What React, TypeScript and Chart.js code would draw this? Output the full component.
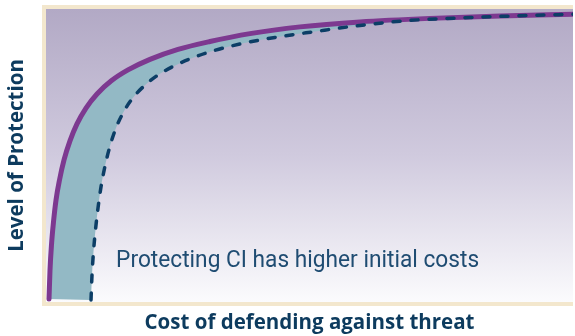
import React, { useEffect, useRef } from "react";
import { Chart, registerables } from "chart.js";

Chart.register(...registerables);

// Cost of defending (x) vs level of protection (y), arbitrary 0-100 units
const baselineCost = [0.57, 0.76, 1.04, 1.42, 1.9, 2.56, 3.42, 4.55, 5.88, 7.59, 9.68, 12.33, 15.56, 19.73, 25.05, 31.12, 38.71, 48.2, 59.58, 72.87, 86.15, 100];
const baselineLevel = [1.0, 10.9, 19.5, 27.3, 34.8, 41.6, 48.5, 55.0, 60.8, 66.2, 71.0, 75.4, 79.2, 82.8, 86.2, 88.9, 91.6, 93.9, 95.6, 96.8, 97.6, 98.2];
const ciCost = [8.54, 8.73, 9.01, 9.39, 9.87, 10.44, 11.2, 12.14, 13.28, 14.61, 16.32, 18.41, 20.87, 23.91, 27.51, 31.88, 37.19, 43.45, 51.04, 59.58, 69.07, 80.46, 91.84, 100];
const ciLevel = [0.7, 9.2, 17.1, 24.6, 32.1, 39.3, 46.4, 53.2, 59.4, 64.5, 69.3, 73.4, 77.0, 80.2, 83.1, 85.8, 88.2, 90.3, 92.3, 94.4, 96.1, 97.1, 97.8, 98.2];

const xTitle = "Cost of defending against threat";
const yTitle = "Level of Protection";
const noteText = "Protecting CI has higher initial costs";
const notePos = { x: 13.3, y: 11.9 };

const toPoints = (xs: number[], ys: number[]) => xs.map((x, i) => ({ x, y: ys[i] }));

const bgPlugin = {
  id: "bgPanel",
  beforeDraw(chart: any) {
    const { ctx, chartArea: a } = chart;
    ctx.save();
    ctx.fillStyle = "#f3e7cd";
    ctx.fillRect(a.left - 4, a.top - 4, a.right - a.left + 4, a.bottom - a.top + 8);
    const g = ctx.createLinearGradient(0, a.top, 0, a.bottom);
    g.addColorStop(0, "#b2a9c5");
    g.addColorStop(0.5, "#d0cade");
    g.addColorStop(1, "#fbfbfd");
    ctx.fillStyle = g;
    ctx.fillRect(a.left, a.top, a.right - a.left, a.bottom - a.top);
    ctx.restore();
  },
};

const notePlugin = {
  id: "note",
  afterDatasetsDraw(chart: any) {
    const { ctx, scales } = chart;
    const px = scales.x.getPixelForValue(notePos.x);
    const py = scales.y.getPixelForValue(notePos.y);
    ctx.save();
    ctx.font = "400 23px Roboto";
    ctx.fillStyle = "#1f4c72";
    ctx.textBaseline = "alphabetic";
    const w = ctx.measureText(noteText).width;
    const sx = 363 / w;
    ctx.translate(px, py);
    ctx.scale(sx, 1);
    ctx.fillText(noteText, 0, 0);
    ctx.restore();
  },
};

export default function App() {
  const ref = useRef<HTMLCanvasElement>(null);
  useEffect(() => {
    if (!ref.current) return;
    const baseline = toPoints(baselineCost, baselineLevel);
    const ci = toPoints(ciCost, ciLevel);
    const shape = [...baseline, ...ci.slice(0, -1).reverse()];
    const titleFont = { family: "'Open Sans', sans-serif", weight: "bold" as const, size: 20.5, lineHeight: 1.2 };
    const chart = new Chart(ref.current, {
      type: "line",
      data: {
        datasets: [
          {
            data: ci,
            borderColor: "#0c3e66",
            borderWidth: 3.5,
            borderDash: [7, 11],
            borderCapStyle: "round",
            pointRadius: 0,
            cubicInterpolationMode: "monotone",
            fill: false,
            order: 1,
          },
          {
            data: baseline,
            borderColor: "#7d3990",
            borderWidth: 5,
            borderCapStyle: "round",
            pointRadius: 0,
            cubicInterpolationMode: "monotone",
            fill: false,
            order: 2,
          },
          {
            data: shape,
            borderWidth: 0,
            borderColor: "rgba(0,0,0,0)",
            backgroundColor: "#93b9c5",
            pointRadius: 0,
            cubicInterpolationMode: "monotone",
            fill: "shape",
            order: 3,
          },
        ],
      },
      options: {
        responsive: false,
        animation: false,
        events: [],
        layout: { padding: { left: 0, top: 9, right: 2, bottom: 0 } },
        plugins: { legend: { display: false }, tooltip: { enabled: false } },
        scales: {
          x: {
            type: "linear",
            min: 0,
            max: 100,
            grid: { display: false, drawTicks: false },
            border: { display: false },
            ticks: { display: false },
            title: {
              display: true,
              text: xTitle,
              color: "#0d3b5e",
              font: titleFont,
              padding: { top: 8.7, bottom: 0.7 },
            },
          },
          y: {
            type: "linear",
            min: 0,
            max: 100,
            grid: { display: false, drawTicks: false },
            border: { display: false },
            ticks: { display: false },
            title: {
              display: true,
              text: yTitle,
              color: "#0d3b5e",
              font: titleFont,
              padding: { top: 4.7, bottom: 16.7 },
            },
          },
        },
      },
      plugins: [bgPlugin, notePlugin],
    });
    return () => chart.destroy();
  }, []);
  return (
    <div style={{ position: "fixed", left: 0, top: 0, width: 575, height: 336, background: "#fff" }}>
      <canvas ref={ref} width={575} height={336} style={{ width: 575, height: 336, display: "block" }} />
    </div>
  );
}
